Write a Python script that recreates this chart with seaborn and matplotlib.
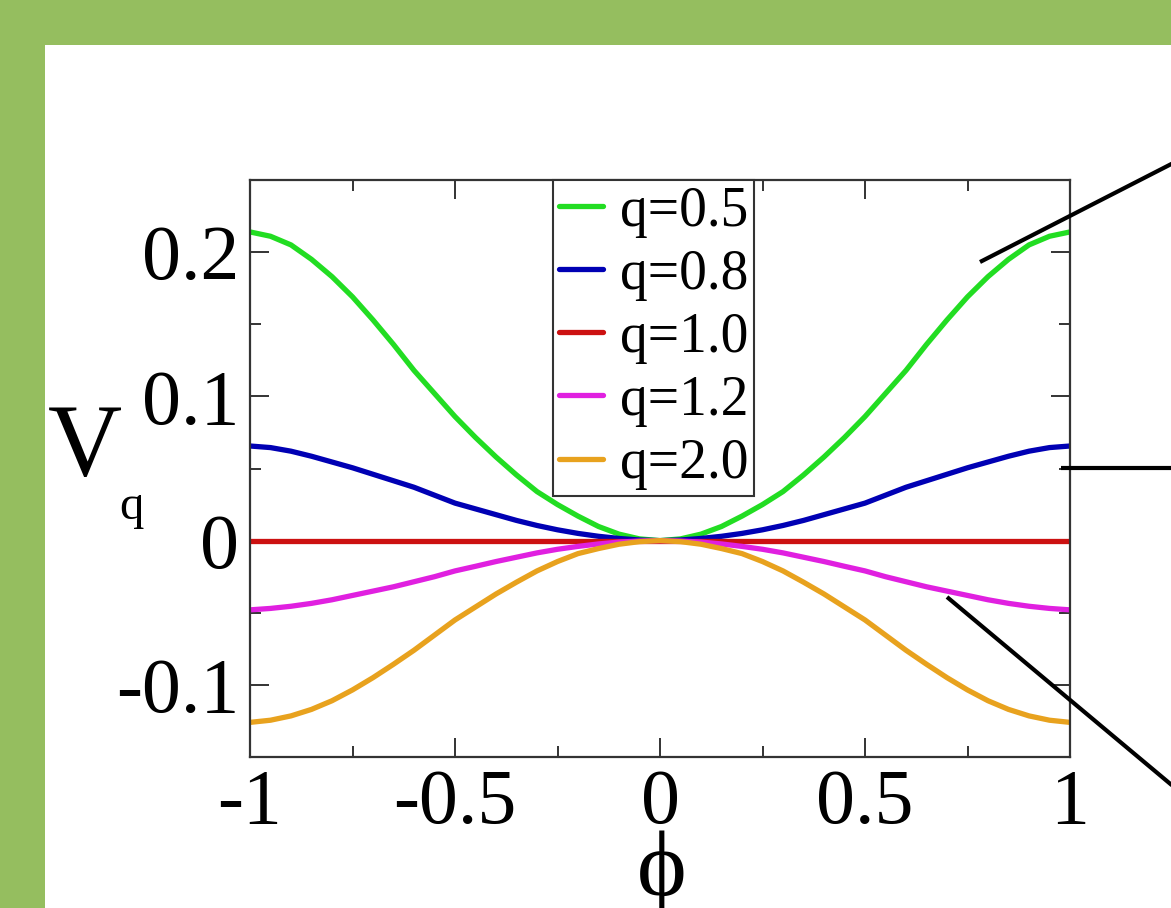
import numpy as np
import pandas as pd
import matplotlib
matplotlib.use("Agg")
import matplotlib.pyplot as plt
from matplotlib.lines import Line2D
from matplotlib.patches import Rectangle
from matplotlib.ticker import MultipleLocator
import seaborn as sns

# Potential V_q(phi) for several q values
phi = [-1.0, -0.95, -0.9, -0.85, -0.8, -0.75, -0.7, -0.65, -0.6, -0.55, -0.5,
       -0.45, -0.4, -0.35, -0.3, -0.25, -0.2, -0.15, -0.1, -0.05, 0.0,
       0.05, 0.1, 0.15, 0.2, 0.25, 0.3, 0.35, 0.4, 0.45, 0.5,
       0.55, 0.6, 0.65, 0.7, 0.75, 0.8, 0.85, 0.9, 0.95, 1.0]
v_q05 = [0.214, 0.211, 0.205, 0.195, 0.183, 0.169, 0.153, 0.136, 0.118, 0.102, 0.086,
         0.0715, 0.058, 0.0455, 0.034, 0.025, 0.017, 0.0098, 0.0045, 0.0012, 0.0,
         0.0012, 0.0045, 0.0098, 0.017, 0.025, 0.034, 0.0455, 0.058, 0.0715, 0.086,
         0.102, 0.118, 0.136, 0.153, 0.169, 0.183, 0.195, 0.205, 0.211, 0.214]
v_q08 = [0.0656, 0.0645, 0.062, 0.0585, 0.0545, 0.0505, 0.046, 0.0415, 0.037, 0.0315, 0.026,
         0.022, 0.018, 0.014, 0.0105, 0.0075, 0.005, 0.003, 0.0015, 0.0004, 0.0,
         0.0004, 0.0015, 0.003, 0.005, 0.0075, 0.0105, 0.014, 0.018, 0.022, 0.026,
         0.0315, 0.037, 0.0415, 0.046, 0.0505, 0.0545, 0.0585, 0.062, 0.0645, 0.0656]
v_q10 = [0.0, 0.0, 0.0, 0.0, 0.0, 0.0, 0.0, 0.0, 0.0, 0.0, 0.0,
         0.0, 0.0, 0.0, 0.0, 0.0, 0.0, 0.0, 0.0, 0.0, 0.0,
         0.0, 0.0, 0.0, 0.0, 0.0, 0.0, 0.0, 0.0, 0.0, 0.0,
         0.0, 0.0, 0.0, 0.0, 0.0, 0.0, 0.0, 0.0, 0.0, 0.0]
v_q12 = [-0.048, -0.047, -0.0455, -0.0435, -0.041, -0.038, -0.035, -0.032, -0.0285, -0.025, -0.021,
         -0.0178, -0.0145, -0.0115, -0.0085, -0.006, -0.004, -0.0023, -0.001, -0.0003, 0.0,
         -0.0003, -0.001, -0.0023, -0.004, -0.006, -0.0085, -0.0115, -0.0145, -0.0178, -0.021,
         -0.025, -0.0285, -0.032, -0.035, -0.038, -0.041, -0.0435, -0.0455, -0.047, -0.048]
v_q20 = [-0.126, -0.1245, -0.1215, -0.117, -0.111, -0.1035, -0.095, -0.0857, -0.076, -0.0655, -0.055,
         -0.046, -0.037, -0.0288, -0.021, -0.0145, -0.009, -0.0055, -0.0025, -0.0007, 0.0,
         -0.0007, -0.0025, -0.0055, -0.009, -0.0145, -0.021, -0.0288, -0.037, -0.046, -0.055,
         -0.0655, -0.076, -0.0857, -0.095, -0.1035, -0.111, -0.117, -0.1215, -0.1245, -0.126]

series_labels = ["q=0.5", "q=0.8", "q=1.0", "q=1.2", "q=2.0"]
series_values = [v_q05, v_q08, v_q10, v_q12, v_q20]
series_colors = ["#22dd22", "#0000b4", "#cc1111", "#e020e0", "#e8a21e"]

x_ticks = [-1, -0.5, 0, 0.5, 1]
x_tick_labels = ["-1", "-0.5", "0", "0.5", "1"]
y_ticks = [-0.1, 0.0, 0.1, 0.2]
y_tick_labels = ["-0.1", "0", "0.1", "0.2"]

df = pd.concat(
    [pd.DataFrame({"phi": phi, "V": vals, "q": lab})
     for lab, vals in zip(series_labels, series_values)],
    ignore_index=True,
)

sns.set_style("ticks")
plt.rcParams["font.family"] = ["Liberation Serif", "DejaVu Serif"]
plt.rcParams["text.color"] = "black"

W, H = 1171, 908
fig = plt.figure(figsize=(W / 100, H / 100), dpi=100)
fig.patch.set_facecolor("#95be5f")
fig.add_artist(Rectangle((45 / W, 0), 1 - 45 / W, 1 - 45 / H,
                         transform=fig.transFigure, facecolor="white",
                         edgecolor="none", zorder=0))

ax = fig.add_axes([250 / W, 1 - 757 / H, 820 / W, 577 / H])
ax.set_facecolor("white")
palette = dict(zip(series_labels, series_colors))
sns.lineplot(data=df, x="phi", y="V", hue="q", palette=palette,
             estimator=None, sort=False, linewidth=3.8, legend=False, ax=ax)

ax.set_xlim(-1, 1)
ax.set_ylim(-0.15, 0.25)
ax.set_xticks(x_ticks)
ax.set_xticklabels(x_tick_labels)
ax.set_yticks(y_ticks)
ax.set_yticklabels(y_tick_labels)
ax.xaxis.set_minor_locator(MultipleLocator(0.25))
ax.yaxis.set_minor_locator(MultipleLocator(0.05))
ax.tick_params(which="both", direction="in", top=True, right=True,
               width=1.4, color="#333333", labelcolor="black")
ax.tick_params(which="major", length=14, labelsize=56, pad=8)
ax.tick_params(which="minor", length=8)
ax.set_xlabel("")
ax.set_ylabel("")
for sp in ax.spines.values():
    sp.set_linewidth(1.6)
    sp.set_color("#333333")

handles = [Line2D([], [], color=c, linewidth=3.8) for c in series_colors]
leg = ax.legend(handles, series_labels, loc="upper left",
                bbox_to_anchor=(0.3695, 1.0), borderaxespad=0,
                fontsize=40, frameon=True, fancybox=False,
                handlelength=0.8, handletextpad=0.3, labelspacing=0.2,
                borderpad=0.1)
leg.get_frame().set_edgecolor("#333333")
leg.get_frame().set_linewidth(1.5)
leg.get_frame().set_alpha(1)
for t in leg.get_texts():
    t.set_color("black")

# axis labels
fig.text(48 / W, 1 - 475 / H, "V", fontsize=74, ha="left", va="baseline")
fig.text(119 / W, 1 - 519 / H, "q", fontsize=35, ha="left", va="baseline")
fig.text(662 / W, 1 - 895 / H, "\u03d5", fontsize=68, ha="center", va="baseline",
         family=["Liberation Serif", "DejaVu Serif"])

# pointer lines towards the right margin
for (x0, y0, x1, y1) in [(980, 262, 1185, 157), (1061, 468, 1175, 468), (947, 597, 1180, 792)]:
    fig.add_artist(Line2D([x0 / W, x1 / W], [1 - y0 / H, 1 - y1 / H],
                          transform=fig.transFigure, color="black",
                          linewidth=3, solid_capstyle="butt"))

fig.savefig("out.png", dpi=100, facecolor=fig.get_facecolor())
